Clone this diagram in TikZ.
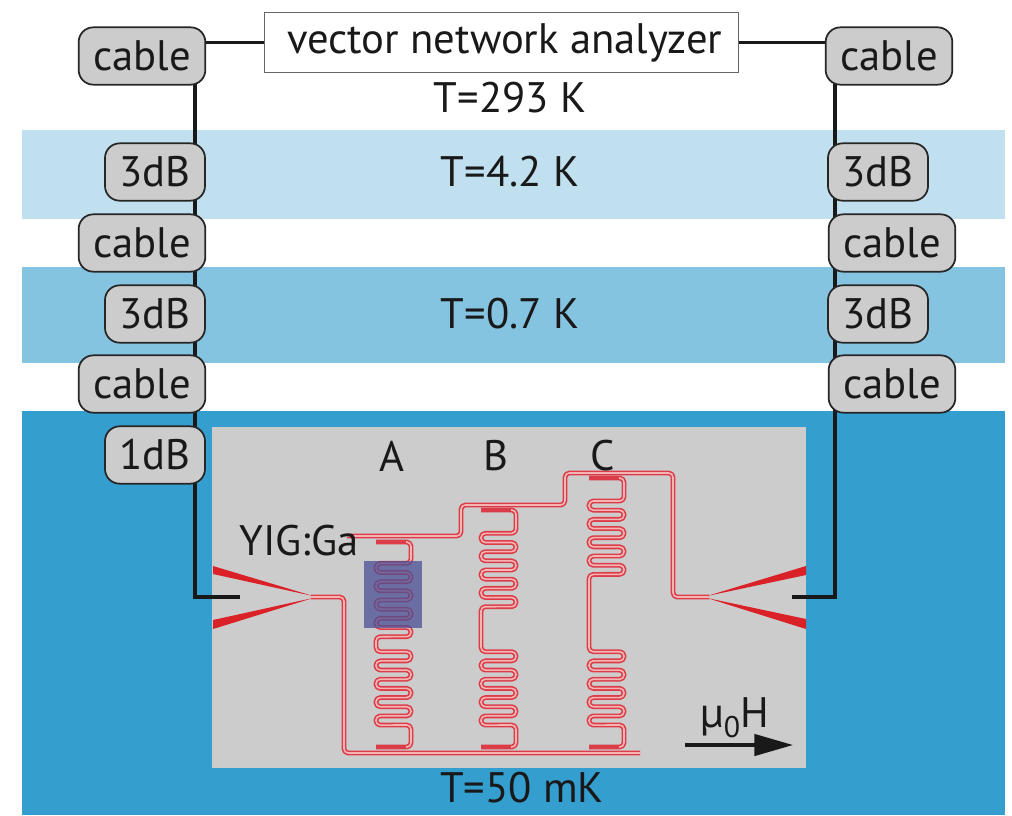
\documentclass[tikz,border=0pt]{standalone}
\usepackage{fontspec}
\setmainfont{PT Sans}
\usetikzlibrary{arrows.meta}
\definecolor{bandA}{HTML}{C0E0EF}
\definecolor{bandB}{HTML}{85C4E1}
\definecolor{bandC}{HTML}{349ECF}
\definecolor{chip}{HTML}{CCCCCC}
\definecolor{cpwred}{HTML}{DC3C48}
\definecolor{cpwin}{HTML}{F4B4B4}
\definecolor{taper}{HTML}{DA2128}
\definecolor{yig}{HTML}{4A4F94}
\pgfdeclarelayer{bg}
\pgfdeclarelayer{wires}
\pgfsetlayers{bg,wires,main}
\tikzset{
	txt/.style={inner sep=0pt,font=\fontsize{32}{34}\selectfont,text=black!90},
	atten/.style={txt,draw=black!85,fill=chip,line width=1.3pt,rounded corners=11pt,minimum height=43pt},
	cablebox/.style={atten,minimum width=95pt},
	dbbox/.style={atten,minimum width=75pt},
	wire/.style={line width=2.6pt,draw=black!90,line join=miter},
	cpw/.style={line join=round,rounded corners=3.2pt,draw=cpwred,line width=1.2pt,double=cpwin,double distance=1.2pt}
}
\begin{document}
\begin{tikzpicture}[x=0.75pt,y=-0.75pt,line cap=butt]
	\useasboundingbox (0,0) rectangle (1012,815);
	\begin{pgfonlayer}{bg}
		\fill[white] (0,0) rectangle (1012,815);
		\fill[bandA] (22,130) rectangle (1005,219);
		\fill[bandB] (22,267) rectangle (1005,363);
		\fill[bandC] (22,411) rectangle (1005,815);
		\fill[chip] (212,427) rectangle (806,768);
	\end{pgfonlayer}
	% boxes
	\node[txt,draw=black!60,fill=white,line width=0.9pt,minimum width=356pt,minimum height=45.5pt] (vna) at (501.5,42.5) {\kern5pt\raisebox{-1.5pt}{vector network analyzer}};
	\coordinate (bendL) at (195,597);
	\coordinate (portL) at (240,597);
	\coordinate (bendR) at (835,597);
	\coordinate (portR) at (792,597);
	\coordinate (fieldS) at (685,745);
	\coordinate (fieldE) at (793,745);
	\foreach \name/\y/\lab in {L1/56/cable,L3/243/cable,L5/384/cable}{\node[cablebox] (\name) at (142,\y) {\lab};}
	\foreach \name/\y/\lab in {L2/172/3dB,L4/314/3dB,L6/455/1dB}{\node[dbbox] (\name) at (155,\y) {\lab};}
	\foreach \name/\x/\y/\lab in {R1/889/56/cable,R3/892/243/cable,R5/892/384/cable}{\node[cablebox] (\name) at (\x,\y) {\lab};}
	\foreach \name/\y/\lab in {R2/172/3dB,R4/314/3dB}{\node[dbbox] (\name) at (878,\y) {\lab};}
	% wires go behind the boxes
	\begin{pgfonlayer}{wires}
		\draw[wire] (vna.west) -- (vna.west -| L1.center);
		\draw[wire] (vna.east) -- (vna.east -| R1.center);
		\draw[wire] (bendL |- L1.center) -- (bendL) -- (portL);
		\draw[wire] (bendR |- R1.center) -- (bendR) -- (portR);
	\end{pgfonlayer}
	% tapers
	\fill[taper] (213,566) -- (313,596) -- (213,574) -- cycle;
	\fill[taper] (213,629) -- (313,598) -- (213,620) -- cycle;
	\fill[taper] (806,566) -- (707,596) -- (806,575) -- cycle;
	\fill[taper] (806,629) -- (707,598) -- (806,619) -- cycle;
	% feedline
	\draw[cpw] (311,597) -- (344,597) -- (344,753) -- (640,753);
	\draw[cpw] (347,536) -- (461,536) -- (461,505) -- (565,505) -- (565,473) -- (673,473) -- (673,597) -- (709,597);
	% resonators
	\foreach \xl/\xr/\ytop/\yrow in {376/411/542/563.3,481/516/510/533.3,589/624/478/501}{
		\draw[cpw] (\xl,\ytop) -- (\xr,\ytop) -- (\xr,\yrow)
			\foreach \k in {0,2,4,6}{ -- (\xl,\yrow+\k*9.17) -- (\xl,\yrow+\k*9.17+9.17) -- (\xr,\yrow+\k*9.17+9.17) -- (\xr,\yrow+\k*9.17+18.34)}
			-- (\xl,\yrow+73.4) -- (\xl,651.7)
			\foreach \k in {0,2,4,6}{ -- (\xr,651.7+\k*9.17) -- (\xr,651.7+\k*9.17+9.17) -- (\xl,651.7+\k*9.17+9.17) -- (\xl,651.7+\k*9.17+18.34)}
			-- (\xr,725) -- (\xr,747) -- (\xl,747);
		\fill[cpwred] (\xl,\ytop-1.5) rectangle (\xl+30,\ytop+1.5);
		\fill[cpwred] (\xl,745.5) rectangle (\xl+30,748.5);
	}
	\fill[yig,opacity=0.75] (364,561) rectangle (422,628);
	% labels
	\foreach \name/\x/\y/\lab in {tA/510/98/T=293 K,tB/510/172/T=4.2 K,tC/510/314/T=0.7 K,tD/522/788/T=50 mK,resA/392/456/A,resB/496/456/B,resC/603/456/C,film/299/541/YIG:Ga}{\node[txt] (\name) at (\x,\y) {\lab};}
	\node[txt] (field) at (735,718) {µ\textsubscript{0}H};
	\draw[wire,-{Triangle[length=29pt,width=16pt]}] (fieldS) -- (fieldE);
\end{tikzpicture}
\end{document}
